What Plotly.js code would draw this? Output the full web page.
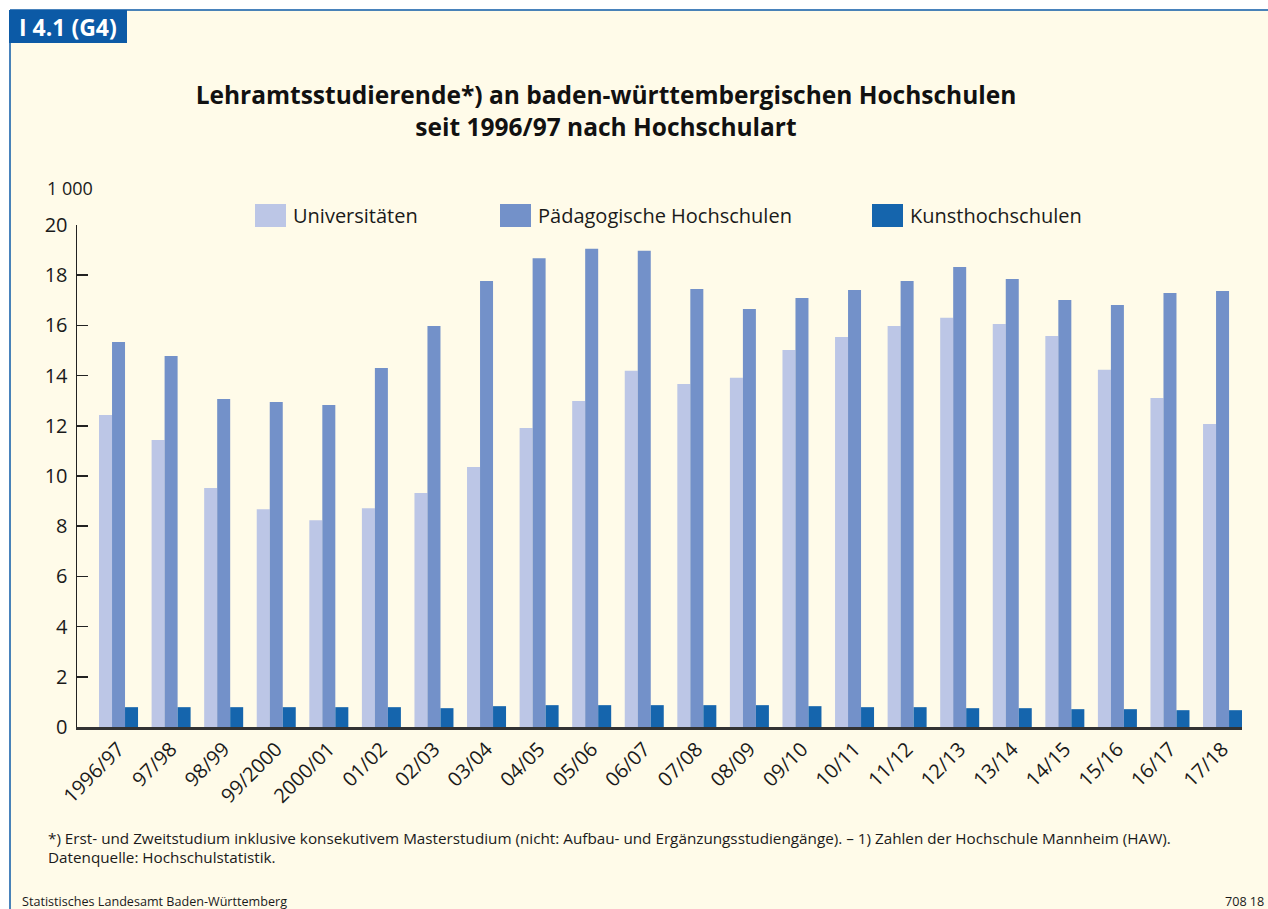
<!DOCTYPE html>
<html>
<head>
<meta charset="utf-8">
<script src="https://cdn.plot.ly/plotly-3.0.1.min.js"></script>
<style>
  body { margin: 0; background: #ffffff; }
  #chart { width: 1268px; height: 909px; }
</style>
</head>
<body>
<div id="chart"></div>
<script>
// Studienjahre (x axis)
var categories = ['1996/97', '97/98', '98/99', '99/2000', '2000/01', '01/02', '02/03', '03/04',
  '04/05', '05/06', '06/07', '07/08', '08/09', '09/10', '10/11', '11/12', '12/13', '13/14',
  '14/15', '15/16', '16/17', '17/18'];

// Lehramtsstudierende in 1 000
var universitaeten = [12.43, 11.43, 9.52, 8.68, 8.24, 8.72, 9.32, 10.36, 11.91, 12.99, 14.19,
  13.67, 13.91, 15.02, 15.54, 15.98, 16.30, 16.06, 15.58, 14.23, 13.11, 12.07];
var paedHochschulen = [15.34, 14.78, 13.07, 12.95, 12.83, 14.30, 15.98, 17.77, 18.68, 19.05, 18.97,
  17.45, 16.65, 17.09, 17.41, 17.77, 18.33, 17.85, 17.01, 16.81, 17.29, 17.37];
var kunsthochschulen = [0.79, 0.79, 0.79, 0.79, 0.79, 0.79, 0.75, 0.83, 0.87, 0.87, 0.87,
  0.87, 0.87, 0.83, 0.79, 0.79, 0.75, 0.75, 0.71, 0.71, 0.67, 0.67];

var seriesNames = ['Universitäten', 'Pädagogische Hochschulen', 'Kunsthochschulen'];
var seriesColors = ['#bcc6e6', '#7391c9', '#1565ad'];

// page geometry (pixels) -> paper coords
var W = 1268, H = 909, L = 77, R = 26, T = 225, B = 182;
var pw = W - L - R, ph = H - T - B;
function px(x) { return (x - L) / pw; }
function py(y) { return (H - B - y) / ph; }

var cream = '#fffbe9';
var blue = '#0c5aa6';
var font = 'Open Sans, Liberation Sans, Arial, sans-serif';
var txt = '#1a1a1a';

var data = [universitaeten, paedHochschulen, kunsthochschulen].map(function (vals, i) {
  return {
    x: categories,
    y: vals,
    name: seriesNames[i],
    type: 'bar',
    marker: { color: seriesColors[i], line: { width: 0 } },
    showlegend: false
  };
});

var shapes = [
  // white strips above and left of the frame
  { type: 'rect', xref: 'paper', yref: 'paper', x0: px(0), x1: px(W), y0: py(0), y1: py(10),
    fillcolor: '#ffffff', line: { width: 0 }, layer: 'below' },
  { type: 'rect', xref: 'paper', yref: 'paper', x0: px(0), x1: px(10), y0: py(0), y1: py(H),
    fillcolor: '#ffffff', line: { width: 0 }, layer: 'below' },
  // frame lines
  { type: 'line', xref: 'paper', yref: 'paper', x0: px(10), x1: px(W), y0: py(10), y1: py(10),
    line: { color: blue, width: 1.5 } },
  { type: 'line', xref: 'paper', yref: 'paper', x0: px(10), x1: px(10), y0: py(10), y1: py(H),
    line: { color: blue, width: 1.5 } },
  // label box
  { type: 'rect', xref: 'paper', yref: 'paper', x0: px(9), x1: px(127), y0: py(10), y1: py(43),
    fillcolor: blue, line: { width: 0 } }
];

var annotations = [
  { text: '<b>I 4.1 (G4)</b>', x: px(68), y: py(27), xref: 'paper', yref: 'paper',
    showarrow: false, xanchor: 'center', yanchor: 'middle',
    font: { family: font, size: 23, color: '#ffffff' } },
  { text: '1 000', x: px(45), y: py(188), xref: 'paper', yref: 'paper',
    showarrow: false, xanchor: 'left', yanchor: 'middle',
    font: { family: font, size: 18, color: txt } },
  { text: '*) Erst- und Zweitstudium inklusive konsekutivem Masterstudium (nicht: Aufbau- und Ergänzungsstudiengänge). – 1) Zahlen der Hochschule Mannheim (HAW).',
    x: px(46), y: py(838), xref: 'paper', yref: 'paper', showarrow: false,
    xanchor: 'left', yanchor: 'middle', font: { family: font, size: 15.25, color: txt } },
  { text: 'Datenquelle: Hochschulstatistik.',
    x: px(46), y: py(857), xref: 'paper', yref: 'paper', showarrow: false,
    xanchor: 'left', yanchor: 'middle', font: { family: font, size: 15.25, color: txt } },
  { text: 'Statistisches Landesamt Baden-Württemberg',
    x: px(20), y: py(901), xref: 'paper', yref: 'paper', showarrow: false,
    xanchor: 'left', yanchor: 'middle', font: { family: font, size: 12.6, color: txt } },
  { text: '708 18',
    x: px(1266), y: py(901), xref: 'paper', yref: 'paper', showarrow: false,
    xanchor: 'right', yanchor: 'middle', font: { family: font, size: 12.6, color: txt } }
];

// custom legend with wide swatches
var legendX = [255, 500, 872];
seriesNames.forEach(function (name, i) {
  shapes.push({ type: 'rect', xref: 'paper', yref: 'paper',
    x0: px(legendX[i]), x1: px(legendX[i] + 31), y0: py(204), y1: py(227),
    fillcolor: seriesColors[i], line: { width: 0 } });
  annotations.push({ text: name, x: px(legendX[i] + 36), y: py(215), xref: 'paper', yref: 'paper',
    showarrow: false, xanchor: 'left', yanchor: 'middle',
    font: { family: font, size: 20, color: txt } });
});

var layout = {
  width: W,
  height: H,
  margin: { l: L, r: R, t: T, b: B, pad: 0 },
  paper_bgcolor: cream,
  plot_bgcolor: cream,
  font: { family: font, color: txt },
  title: {
    text: '<b>Lehramtsstudierende*) an baden-württembergischen Hochschulen<br>seit 1996/97 nach Hochschulart</b>',
    x: 606 / W, xref: 'container', xanchor: 'center',
    y: 1 - 104 / H, yref: 'container', yanchor: 'middle',
    font: { family: font, size: 24.5, color: '#111111' }
  },
  barmode: 'group',
  bargap: 0.258,
  bargroupgap: 0,
  xaxis: {
    type: 'category',
    range: [-0.79, 21.37],
    tickangle: -45,
    ticks: '',
    showgrid: false,
    showline: true,
    linecolor: '#333333',
    linewidth: 2.5,
    tickfont: { family: font, size: 20, color: txt }
  },
  yaxis: {
    range: [0, 20],
    dtick: 2,
    ticks: 'inside',
    ticklen: 11,
    tickwidth: 1.5,
    tickcolor: '#222222',
    showgrid: false,
    zeroline: false,
    showline: true,
    linecolor: '#222222',
    linewidth: 1.5,
    ticklabelstandoff: 4,
    tickfont: { family: font, size: 20, color: txt }
  },
  shapes: shapes,
  annotations: annotations
};

Plotly.newPlot('chart', data, layout, { staticPlot: true });
</script>
</body>
</html>
